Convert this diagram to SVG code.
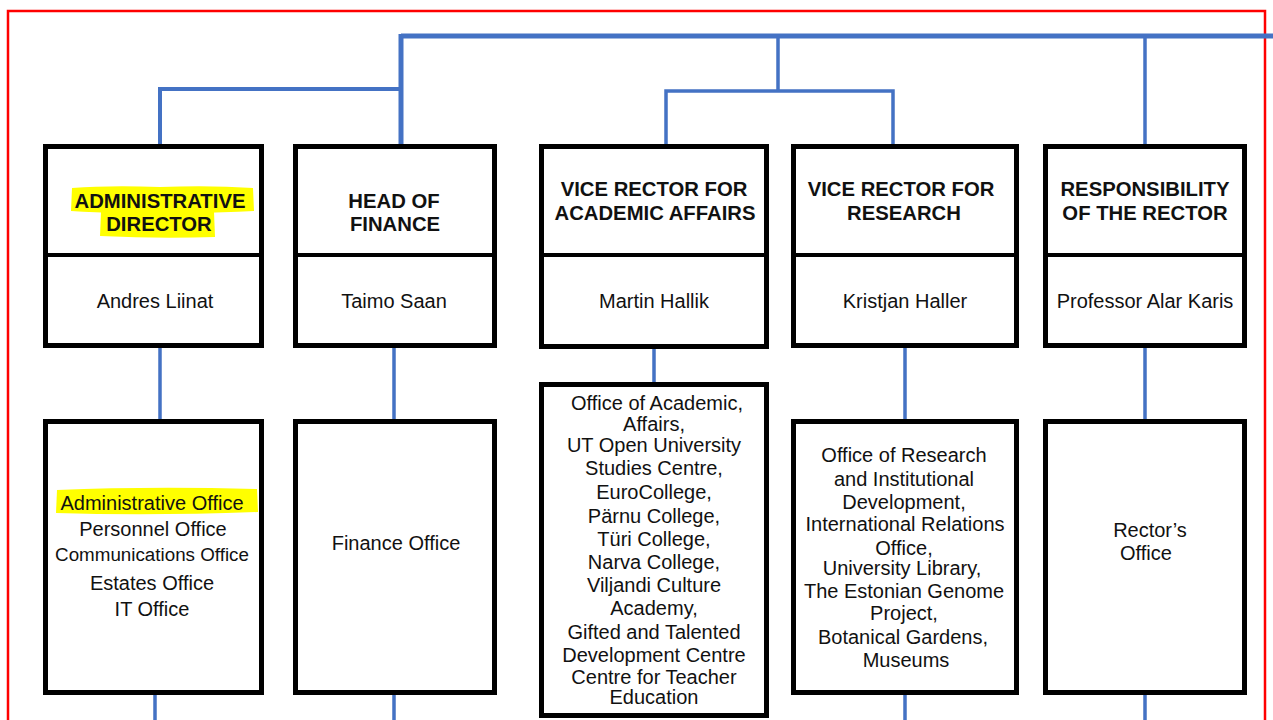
<svg xmlns="http://www.w3.org/2000/svg" width="1273" height="720" viewBox="0 0 1273 720">
  <style>
    .box { fill: #ffffff; stroke: #000000; stroke-width: 5; }
    .div { stroke: #000000; stroke-width: 4; }
    .link { fill: none; stroke: #4472c4; stroke-linecap: butt; }
    .hd { font-family: "Liberation Sans", Arial, sans-serif; font-weight: bold; font-size: 20.3px; fill: #111111; text-anchor: middle; }
    .tx { font-family: "Liberation Sans", Arial, sans-serif; font-size: 20px; fill: #111111; text-anchor: middle; }
    .tx.small { font-size: 18.8px; }
    .hl { fill: #ffff00; }
  </style>

  <rect width="1273" height="720" fill="#ffffff"/>
  <!-- page frame -->
  <rect x="8" y="11" width="1257" height="730" fill="none" stroke="#ff0000" stroke-width="2.5"/>

  <!-- connectors -->
  <g id="connectors">
    <path class="link" stroke-width="5" d="M401 36 H1273 M401 34 V145"/>
    <path class="link" stroke-width="4" d="M160 145 V89 H401"/>
    <path class="link" stroke-width="3.5" d="M778 36 V91 M666 145 V91 H893 V145"/>
    <path class="link" stroke-width="3.5" d="M1145 36 V145"/>
    <path class="link" stroke-width="3.5" d="M160 347 V420 M394 347 V420 M654 348 V383 M905 347 V420 M1145 347 V420"/>
    <path class="link" stroke-width="3.5" d="M155 694 V720 M394 694 V720 M905 694 V720 M1145 694 V720"/>
  </g>

  <!-- administrative director -->
  <g id="admin-director">
    <rect class="box" x="45.5" y="146.5" width="216" height="199"/>
    <line class="div" x1="45" y1="255" x2="262" y2="255"/>
    <path class="hl" d="M72 188 Q110 185 160 187 Q210 185 253 188 L254 211 Q200 214 160 212 Q110 214 71 211 Z"/>
    <path class="hl" d="M101 212 Q150 210 214 212 L215 237 Q160 239 100 236 Z"/>
    <text class="hd" x="160" y="208">ADMINISTRATIVE</text>
    <text class="hd" x="159" y="231">DIRECTOR</text>
    <text class="tx" x="155" y="308">Andres Liinat</text>
  </g>

  <!-- head of finance -->
  <g id="head-finance">
    <rect class="box" x="295.5" y="146.5" width="199" height="199"/>
    <line class="div" x1="295" y1="255" x2="495" y2="255"/>
    <text class="hd" x="394" y="208">HEAD OF</text>
    <text class="hd" x="395" y="231">FINANCE</text>
    <text class="tx" x="394" y="308">Taimo Saan</text>
  </g>

  <!-- vice rector academic -->
  <g id="vr-academic">
    <rect class="box" x="541.5" y="146.5" width="225" height="200"/>
    <line class="div" x1="541" y1="255" x2="767" y2="255"/>
    <text class="hd" x="654" y="196">VICE RECTOR FOR</text>
    <text class="hd" x="655" y="220">ACADEMIC AFFAIRS</text>
    <text class="tx" x="654" y="308">Martin Hallik</text>
  </g>

  <!-- vice rector research -->
  <g id="vr-research">
    <rect class="box" x="793.5" y="146.5" width="223" height="199"/>
    <line class="div" x1="793" y1="255" x2="1017" y2="255"/>
    <text class="hd" x="901" y="196">VICE RECTOR FOR</text>
    <text class="hd" x="904" y="220">RESEARCH</text>
    <text class="tx" x="905" y="308">Kristjan Haller</text>
  </g>

  <!-- rector -->
  <g id="rector">
    <rect class="box" x="1045.5" y="146.5" width="199" height="199"/>
    <line class="div" x1="1045" y1="255" x2="1245" y2="255"/>
    <text class="hd" x="1145" y="196">RESPONSIBILITY</text>
    <text class="hd" x="1145" y="220">OF THE RECTOR</text>
    <text class="tx" x="1145" y="308">Professor Alar Karis</text>
  </g>

  <!-- administrative offices -->
  <g id="admin-offices">
    <rect class="box" x="45.5" y="421.5" width="216" height="271"/>
    <path class="hl" d="M57 490 Q150 486 257 489 L258 512 Q150 516 56 513 Z"/>
    <text class="tx" x="152" y="510">Administrative Office</text>
    <text class="tx" x="153" y="536">Personnel Office</text>
    <text class="tx small" x="152" y="561">Communications Office</text>
    <text class="tx" x="152" y="590">Estates Office</text>
    <text class="tx" x="152" y="616">IT Office</text>
  </g>

  <!-- finance office -->
  <g id="finance-office">
    <rect class="box" x="295.5" y="421.5" width="199" height="271"/>
    <text class="tx" x="396" y="550">Finance Office</text>
  </g>

  <!-- academic offices -->
  <g id="academic-offices">
    <rect class="box" x="541.5" y="384.5" width="225" height="331"/>
    <text class="tx" x="657" y="410">Office of Academic,</text>
    <text class="tx" x="654" y="431">Affairs,</text>
    <text class="tx" x="654" y="452">UT Open University</text>
    <text class="tx" x="654" y="475">Studies Centre,</text>
    <text class="tx" x="654" y="499">EuroCollege,</text>
    <text class="tx" x="654" y="523">Pärnu College,</text>
    <text class="tx" x="654" y="546">Türi College,</text>
    <text class="tx" x="654" y="569">Narva College,</text>
    <text class="tx" x="654" y="592">Viljandi Culture</text>
    <text class="tx" x="654" y="615">Academy,</text>
    <text class="tx" x="654" y="639">Gifted and Talented</text>
    <text class="tx" x="654" y="662">Development Centre</text>
    <text class="tx" x="654" y="684">Centre for Teacher</text>
    <text class="tx" x="654" y="704">Education</text>
  </g>

  <!-- research offices -->
  <g id="research-offices">
    <rect class="box" x="793.5" y="421.5" width="223" height="271"/>
    <text class="tx" x="904" y="462">Office of Research</text>
    <text class="tx" x="904" y="486">and Institutional</text>
    <text class="tx" x="904" y="509">Development,</text>
    <text class="tx" x="905" y="531">International Relations</text>
    <text class="tx" x="904" y="555">Office,</text>
    <text class="tx" x="902" y="575">University Library,</text>
    <text class="tx" x="904" y="598">The Estonian Genome</text>
    <text class="tx" x="904" y="620">Project,</text>
    <text class="tx" x="903" y="644">Botanical Gardens,</text>
    <text class="tx" x="906" y="667">Museums</text>
  </g>

  <!-- rector's office -->
  <g id="rector-office">
    <rect class="box" x="1045.5" y="421.5" width="199" height="271"/>
    <text class="tx" x="1150" y="537">Rector’s</text>
    <text class="tx" x="1146" y="560">Office</text>
  </g>
</svg>
